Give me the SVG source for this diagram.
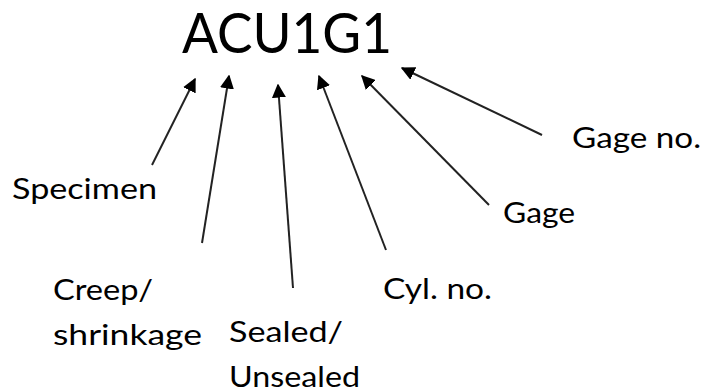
<svg xmlns="http://www.w3.org/2000/svg" width="704" height="391" viewBox="0 0 704 391">
<style>
text{font-family:Lato,"Open Sans","Liberation Sans",sans-serif;fill:#000}
.lbl{font-size:29px}
.title{font-size:56px}
.arr{stroke:#222;stroke-width:2;fill:none;marker-end:url(#ah)}
</style>
<defs>
<marker id="ah" viewBox="0 0 10 10" refX="9" refY="5" markerWidth="7" markerHeight="7" markerUnits="strokeWidth" orient="auto">
<path d="M0,0 L10,5 L0,10 Z" fill="#000"/>
</marker>
</defs>
<rect width="704" height="391" fill="#fff"/>
<g id="title"><text class="title" x="182" y="53" textLength="210" lengthAdjust="spacingAndGlyphs">ACU1G1</text></g>
<g id="connectors">
<line class="arr" x1="152" y1="165" x2="195" y2="79"/>
<line class="arr" x1="202" y1="243" x2="229" y2="76"/>
<line class="arr" x1="293" y1="288" x2="278" y2="85"/>
<line class="arr" x1="386" y1="250" x2="319" y2="76"/>
<line class="arr" x1="489" y1="205" x2="362" y2="76"/>
<line class="arr" x1="542" y1="135" x2="402" y2="68"/>
</g>
<g id="specimen"><text class="lbl" x="12" y="199" textLength="145" lengthAdjust="spacingAndGlyphs">Specimen</text></g>
<g id="creep"><text class="lbl" x="53" y="300" textLength="100" lengthAdjust="spacingAndGlyphs">Creep/</text><text class="lbl" x="53" y="345" textLength="149" lengthAdjust="spacingAndGlyphs">shrinkage</text></g>
<g id="sealed"><text class="lbl" x="229" y="342" textLength="114" lengthAdjust="spacingAndGlyphs">Sealed/</text><text class="lbl" x="229" y="387" textLength="131" lengthAdjust="spacingAndGlyphs">Unsealed</text></g>
<g id="cyl"><text class="lbl" x="383" y="299" textLength="109" lengthAdjust="spacingAndGlyphs">Cyl. no.</text></g>
<g id="gage"><text class="lbl" x="503" y="223" textLength="72" lengthAdjust="spacingAndGlyphs">Gage</text></g>
<g id="gageno"><text class="lbl" x="572" y="148" textLength="129" lengthAdjust="spacingAndGlyphs">Gage no.</text></g>
</svg>
